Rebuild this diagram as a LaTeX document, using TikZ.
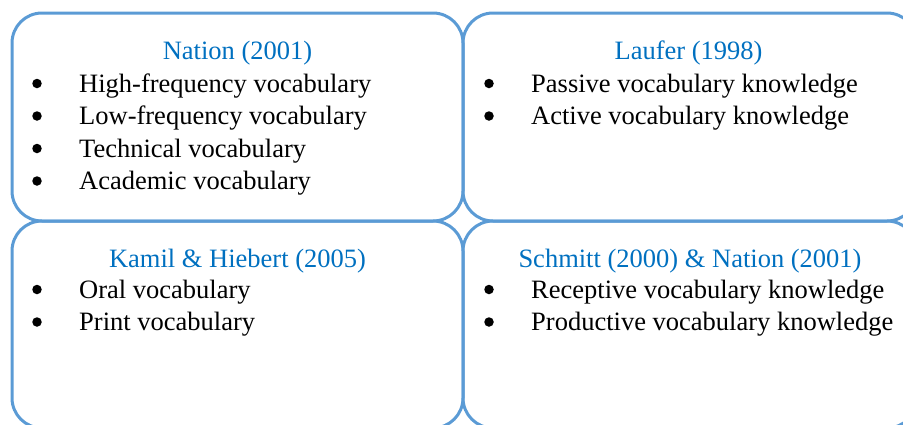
\documentclass[tikz,border=0pt]{standalone}
\usepackage{fontspec}
\setmainfont{Liberation Serif}
\definecolor{boxline}{HTML}{5B9BD5}
\definecolor{titleblue}{HTML}{0070C0}
\begin{document}
\begin{tikzpicture}[x=1pt,y=-1pt,
  panel/.style={draw=boxline, line width=3pt, rounded corners=30pt, inner sep=0pt},
  ttl/.style={anchor=base, text=titleblue, font=\fontsize{26.5}{32}\selectfont, inner sep=0pt},
  bul/.style={circle, fill=black, minimum size=9.5pt, inner sep=0pt},
  itm/.style={anchor=base west, font=\fontsize{26.5}{32}\selectfont, inner sep=0pt}]
\useasboundingbox (0,0) rectangle (903,424);
\begin{scope}
\clip (0,0) rectangle (903,424);
\node[panel, minimum width=451pt, minimum height=208pt] (tl) at (237.5,117) {};
\node[panel, minimum width=454pt, minimum height=208pt] (tr) at (690,117) {};
\node[panel, minimum width=451pt, minimum height=207pt] (bl) at (237.5,324.5) {};
\node[panel, minimum width=454pt, minimum height=207pt] (br) at (690,324.5) {};
\end{scope}
% top-left
\node[ttl] (t1) at (237.5,59) {Nation (2001)};
\node[bul] (b11) at (37,83.5) {};
\node[itm] (i11) at (79,92) {High-frequency vocabulary};
\node[bul] (b12) at (37,116) {};
\node[itm] (i12) at (79,124.5) {Low-frequency vocabulary};
\node[bul] (b13) at (37,148.5) {};
\node[itm] (i13) at (79,157) {Technical vocabulary};
\node[bul] (b14) at (37,181) {};
\node[itm] (i14) at (79,189.5) {Academic vocabulary};
% top-right
\node[ttl] (t2) at (688.5,59) {Laufer (1998)};
\node[bul] (b21) at (489,83.5) {};
\node[itm] (i21) at (531,92) {Passive vocabulary knowledge};
\node[bul] (b22) at (489,116) {};
\node[itm] (i22) at (531,124.5) {Active vocabulary knowledge};
% bottom-left
\node[ttl] (t3) at (237.5,267) {Kamil \& Hiebert (2005)};
\node[bul] (b31) at (37,289.5) {};
\node[itm] (i31) at (79,298) {Oral vocabulary};
\node[bul] (b32) at (37,322) {};
\node[itm] (i32) at (79,330.5) {Print vocabulary};
% bottom-right
\node[ttl] (t4) at (690,267) {Schmitt (2000) \& Nation (2001)};
\node[bul] (b41) at (489,289.5) {};
\node[itm] (i41) at (531,298) {Receptive vocabulary knowledge};
\node[bul] (b42) at (489,322) {};
\node[itm] (i42) at (531,330.5) {Productive vocabulary knowledge};
\end{tikzpicture}
\end{document}
